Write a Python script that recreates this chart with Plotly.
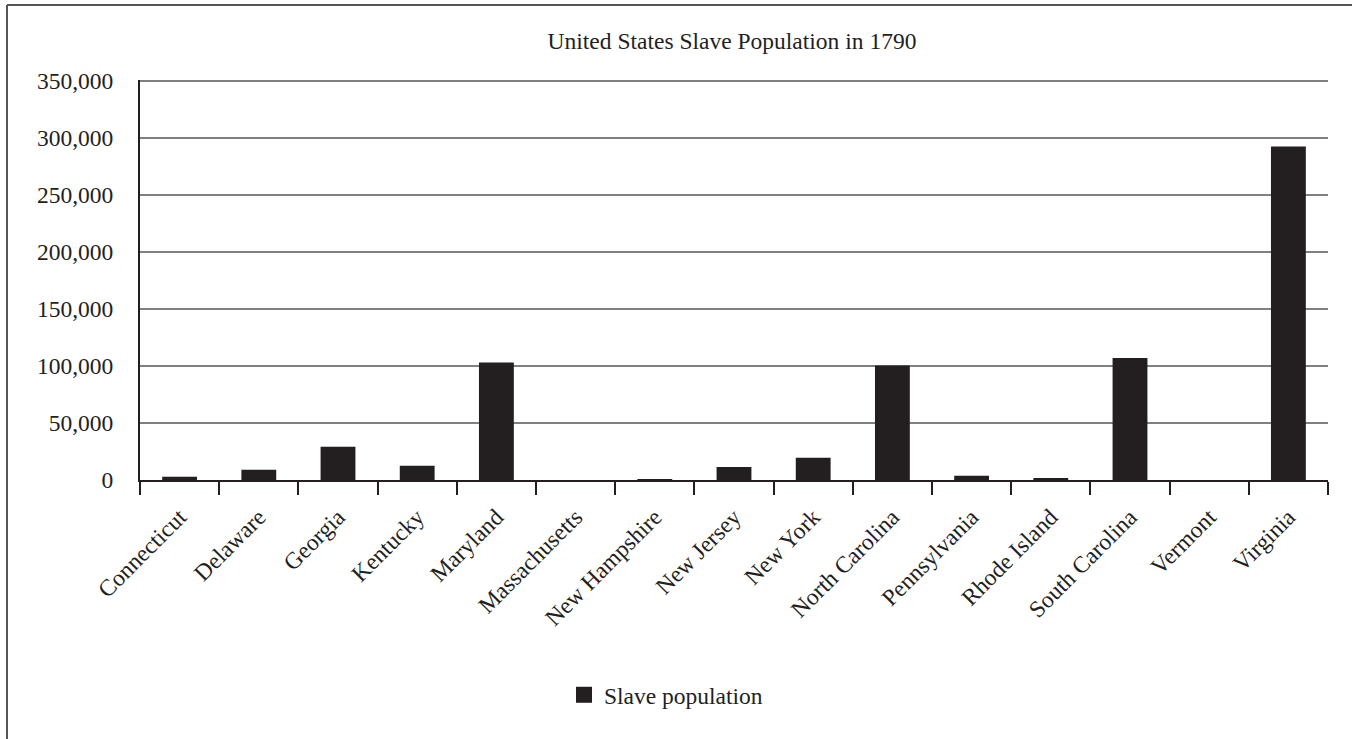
import plotly.graph_objects as go

states = ["Connecticut", "Delaware", "Georgia", "Kentucky", "Maryland", "Massachusetts",
          "New Hampshire", "New Jersey", "New York", "North Carolina", "Pennsylvania",
          "Rhode Island", "South Carolina", "Vermont", "Virginia"]
slave_population = [2764, 8887, 29264, 12430, 103036, 0, 158, 11423, 19500, 100572,
                    3707, 958, 107094, 0, 292627]
y_ticks = [0, 50000, 100000, 150000, 200000, 250000, 300000, 350000]
y_tick_labels = ["0", "50,000", "100,000", "150,000", "200,000", "250,000", "300,000", "350,000"]
y_max = 351000

W, H = 1352, 739
L, R, T, B = 140, 24, 80, 259
DARK = "#231f20"
FONT = "Liberation Serif"
FS = 23.5

fig = go.Figure()
fig.add_trace(go.Bar(
    x=states, y=slave_population, name="Slave population", showlegend=False,
    marker=dict(color=DARK, line=dict(width=0)),
))
# legend entry with a square swatch
fig.add_trace(go.Scatter(
    x=[None], y=[None], mode="markers", name="Slave population",
    marker=dict(symbol="square", size=18, color=DARK, line=dict(width=0)),
))

pw = W - L - R
ph = H - T - B

fig.update_layout(
    width=W, height=H,
    margin=dict(l=L, r=R, t=T, b=B, autoexpand=False),
    paper_bgcolor="white", plot_bgcolor="white",
    font=dict(family=FONT, size=FS, color=DARK),
    bargap=0.56,
    showlegend=True,
    title=dict(text="United States Slave Population in 1790", x=(L + pw / 2 - 2) / W, xanchor="center",
               y=1 - 41 / H, yanchor="middle", font=dict(family=FONT, size=FS, color=DARK)),
    legend=dict(orientation="h", x=(666 - L) / pw, xanchor="center",
                y=(T + ph - 695) / ph, yanchor="middle",
                font=dict(family=FONT, size=FS, color=DARK), itemwidth=30,
                bgcolor="rgba(0,0,0,0)"),
    xaxis=dict(
        type="category", categoryorder="array", categoryarray=states,
        tickangle=-45, showgrid=False,
        showline=True, linecolor=DARK, linewidth=2,
        ticks="outside", tickson="boundaries", ticklen=13, tickwidth=2, tickcolor=DARK,
        ticklabelstandoff=12,
        tickfont=dict(family=FONT, size=FS, color=DARK),
    ),
    yaxis=dict(
        range=[0, y_max], tickvals=y_ticks, ticktext=y_tick_labels,
        showgrid=True, gridcolor="#808080", gridwidth=2,
        showline=True, linecolor=DARK, linewidth=2,
        zeroline=False, ticks="", ticklabelstandoff=20,
        tickfont=dict(family=FONT, size=FS, color=DARK),
    ),
    shapes=[
        dict(type="line", xref="paper", yref="paper",
             x0=(7 - L) / pw, x1=(W + 10 - L) / pw, y0=(T + ph - 5) / ph, y1=(T + ph - 5) / ph,
             line=dict(color="#555555", width=2)),
        dict(type="line", xref="paper", yref="paper",
             x0=(7 - L) / pw, x1=(7 - L) / pw, y0=(T + ph - 5) / ph, y1=(T + ph - H - 10) / ph,
             line=dict(color="#555555", width=2)),
    ],
)

fig.write_html("out.html")
